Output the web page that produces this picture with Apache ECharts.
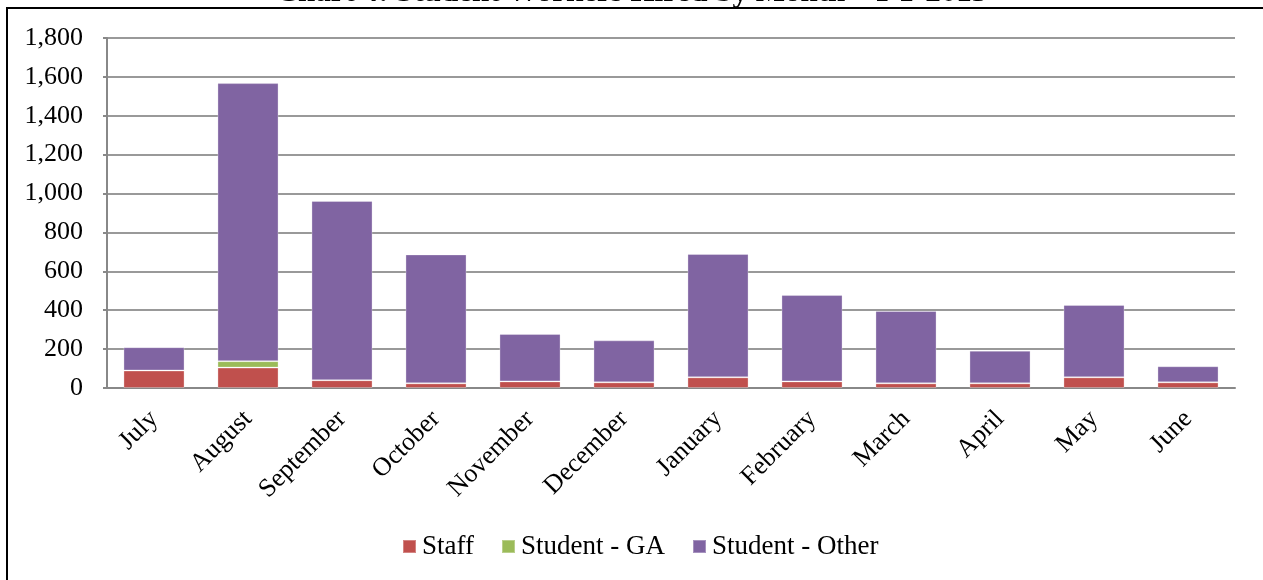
<!DOCTYPE html>
<html>
<head>
<meta charset="utf-8">
<script src="https://cdn.jsdelivr.net/npm/echarts@6/dist/echarts.min.js"></script>
<style>
html,body{margin:0;padding:0;background:#fff;}
#c{width:1263px;height:580px;}
</style>
</head>
<body>
<div id="c"></div>
<script>
var categories = ['July','August','September','October','November','December','January','February','March','April','May','June'];
var staff = [90, 105, 40, 24, 34, 29, 55, 34, 24, 24, 55, 29];
var studentGA = [0, 33, 0, 0, 0, 0, 0, 0, 0, 0, 0, 0];
var studentOther = [120, 1430, 922, 663, 244, 216, 634, 444, 372, 168, 372, 83];
var yTicks = [0, 200, 400, 600, 800, 1000, 1200, 1400, 1600, 1800];
var titleText = 'Chart 4: Student Workers Hired by Month \u2013 FY 2013';

var font = '"Liberation Serif", "Times New Roman", serif';
var chart = echarts.init(document.getElementById('c'));
var barStyle = function(c){ return {color:c, borderColor:'rgba(255,255,255,0.3)', borderWidth:1}; };
chart.setOption({
  animation:false,
  title:{text:titleText, left:'center', top:-28, textStyle:{fontFamily:font, fontWeight:'bold', fontSize:31, color:'#000'}},
  graphic:[{type:'rect', shape:{x:7, y:8, width:1300, height:600}, style:{fill:'#fff', stroke:'#000', lineWidth:2}, silent:true, z:-10}],
  legend:{bottom:15, left:397, itemWidth:13, itemHeight:13, itemGap:27, icon:'rect',
    textStyle:{fontFamily:font, fontSize:27, color:'#000', padding:[0,0,0,1]},
    data:['Staff','Student - GA','Student - Other']},
  grid:{left:107, right:28, top:38, bottom:192, containLabel:false},
  xAxis:{type:'category', data:categories,
    axisLine:{lineStyle:{color:'#888', width:2}}, axisTick:{show:false},
    axisLabel:{rotate:45, interval:0, margin:27, fontFamily:font, fontSize:26, color:'#000'}},
  yAxis:{type:'value', min:0, max:1800, interval:200,
    axisLine:{show:true, lineStyle:{color:'#888', width:2}},
    axisTick:{show:true, length:4, lineStyle:{color:'#888', width:2}},
    splitLine:{lineStyle:{color:'#999', width:2}},
    axisLabel:{margin:24, fontFamily:font, fontSize:26, color:'#000',
      formatter:function(v){ return yTicks.indexOf(v) >= 0 ? v.toLocaleString('en-US') : ''; }}},
  series:[
    {name:'Staff', type:'bar', stack:'a', data:staff, barCategoryGap:'35%', itemStyle:barStyle('#C0504D')},
    {name:'Student - GA', type:'bar', stack:'a', data:studentGA, itemStyle:barStyle('#9BBB59')},
    {name:'Student - Other', type:'bar', stack:'a', data:studentOther, itemStyle:barStyle('#8064A2')}
  ]
});
</script>
</body>
</html>
